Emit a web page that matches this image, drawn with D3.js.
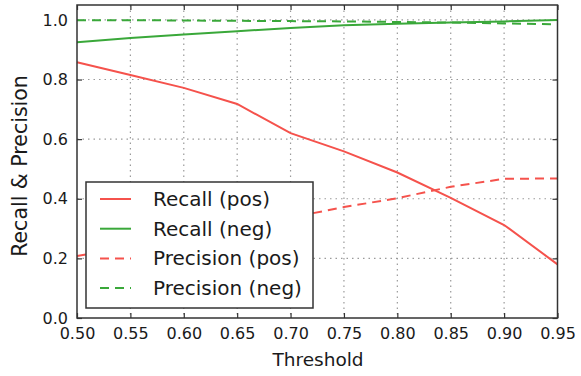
<!DOCTYPE html>
<html>
<head>
<meta charset="utf-8">
<script src="https://cdn.jsdelivr.net/npm/d3@7"></script>
<style>
  body { margin: 0; background: #fff; }
  svg { display: block; font-family: "DejaVu Sans", sans-serif; }
</style>
</head>
<body>
<div id="chart"></div>
<script>
// thresholds on x axis
const thresholds = [0.50, 0.55, 0.60, 0.65, 0.70, 0.75, 0.80, 0.85, 0.90, 0.95];
const recallPos = [0.858, 0.815, 0.772, 0.718, 0.620, 0.559, 0.488, 0.403, 0.312, 0.180];
const recallNeg = [0.925, 0.939, 0.951, 0.962, 0.973, 0.982, 0.987, 0.991, 0.995, 1.000];
const precisionPos = [0.208, 0.240, 0.272, 0.304, 0.337, 0.372, 0.402, 0.440, 0.467, 0.468];
const precisionNeg = [0.999, 0.999, 0.998, 0.997, 0.996, 0.995, 0.993, 0.991, 0.988, 0.985];
const xTicks = [0.50, 0.55, 0.60, 0.65, 0.70, 0.75, 0.80, 0.85, 0.90, 0.95];
const yTicks = [0.0, 0.2, 0.4, 0.6, 0.8, 1.0];

const RED = "#f5524c";
const GREEN = "#3aa83a";

const width = 581, height = 376;
const plotLeft = 77, plotRight = 557.5, plotTop = 5, plotBottom = 318;

const series = [
  { name: "Recall (pos)", values: recallPos, color: RED, dash: null },
  { name: "Recall (neg)", values: recallNeg, color: GREEN, dash: null },
  { name: "Precision (pos)", values: precisionPos, color: RED, dash: "9,6" },
  { name: "Precision (neg)", values: precisionNeg, color: GREEN, dash: "9,6" }
];

const svg = d3.select("#chart").append("svg")
  .attr("width", width)
  .attr("height", height);

const x = d3.scaleLinear().domain([0.5, 0.95]).range([plotLeft, plotRight]);
const y = d3.scaleLinear().domain([0, 1.05]).range([plotBottom, plotTop]);

// dotted grid
svg.append("g").selectAll("line").data(xTicks.slice(1, -1)).enter().append("line")
  .attr("x1", d => x(d)).attr("x2", d => x(d))
  .attr("y1", plotTop).attr("y2", plotBottom)
  .attr("stroke", "#9a9a9a").attr("stroke-width", 1.2).attr("stroke-dasharray", "1.5,4");
svg.append("g").selectAll("line").data(yTicks.slice(1)).enter().append("line")
  .attr("x1", plotLeft).attr("x2", plotRight)
  .attr("y1", d => y(d)).attr("y2", d => y(d))
  .attr("stroke", "#9a9a9a").attr("stroke-width", 1.2).attr("stroke-dasharray", "1.5,4");

// axes, ticks pointing inward
const xAxis = svg.append("g").attr("transform", "translate(0," + plotBottom + ")")
  .call(d3.axisBottom(x).tickValues(xTicks).tickFormat(d3.format(".2f")).tickSizeInner(-5).tickSizeOuter(0).tickPadding(10));
const xAxisTop = svg.append("g").attr("transform", "translate(0," + plotTop + ")")
  .call(d3.axisTop(x).tickValues(xTicks).tickFormat("").tickSizeInner(-5).tickSizeOuter(0));
const yAxis = svg.append("g").attr("transform", "translate(" + plotLeft + ",0)")
  .call(d3.axisLeft(y).tickValues(yTicks).tickFormat(d3.format(".1f")).tickSizeInner(-5).tickSizeOuter(0).tickPadding(9));
const yAxisRight = svg.append("g").attr("transform", "translate(" + plotRight + ",0)")
  .call(d3.axisRight(y).tickValues(yTicks).tickFormat("").tickSizeInner(-5).tickSizeOuter(0));

[xAxis, xAxisTop, yAxis, yAxisRight].forEach(g => {
  g.select(".domain").remove();
  g.selectAll(".tick line").attr("stroke", "#333").attr("stroke-width", 1.2);
  g.selectAll("text").attr("font-family", "DejaVu Sans, sans-serif").attr("font-size", "16px").attr("fill", "#1a1a1a");
});

// lines
const line = d3.line().x((d, i) => x(thresholds[i])).y(d => y(d));
svg.append("g").selectAll("path").data(series).enter().append("path")
  .attr("d", d => line(d.values))
  .attr("fill", "none")
  .attr("stroke", d => d.color)
  .attr("stroke-width", 2)
  .attr("stroke-dasharray", d => d.dash);

// frame
svg.append("rect")
  .attr("x", plotLeft).attr("y", plotTop)
  .attr("width", plotRight - plotLeft).attr("height", plotBottom - plotTop)
  .attr("fill", "none").attr("stroke", "#333").attr("stroke-width", 1.5);

// axis labels
svg.append("text")
  .attr("x", 318).attr("y", 366)
  .attr("text-anchor", "middle")
  .attr("font-size", "18.5px").attr("fill", "#1a1a1a")
  .text("Threshold");
svg.append("text")
  .attr("transform", "translate(27,166) rotate(-90)")
  .attr("text-anchor", "middle")
  .attr("font-size", "20.5px").attr("fill", "#1a1a1a")
  .text("Recall & Precision");

// legend
const legend = svg.append("g");
legend.append("rect")
  .attr("x", 86).attr("y", 182).attr("width", 227).attr("height", 126)
  .attr("fill", "#fff").attr("stroke", "#333").attr("stroke-width", 1.5);
const item = legend.selectAll("g.item").data(series).enter().append("g")
  .attr("class", "item")
  .attr("transform", (d, i) => "translate(0," + (199 + i * 29.7) + ")");
item.append("line")
  .attr("x1", 100).attr("x2", 131)
  .attr("stroke", d => d.color).attr("stroke-width", 2)
  .attr("stroke-dasharray", d => d.dash);
item.append("text")
  .attr("x", 153).attr("dy", "0.35em")
  .attr("font-size", "20px").attr("fill", "#1a1a1a")
  .text(d => d.name);
</script>
</body>
</html>
